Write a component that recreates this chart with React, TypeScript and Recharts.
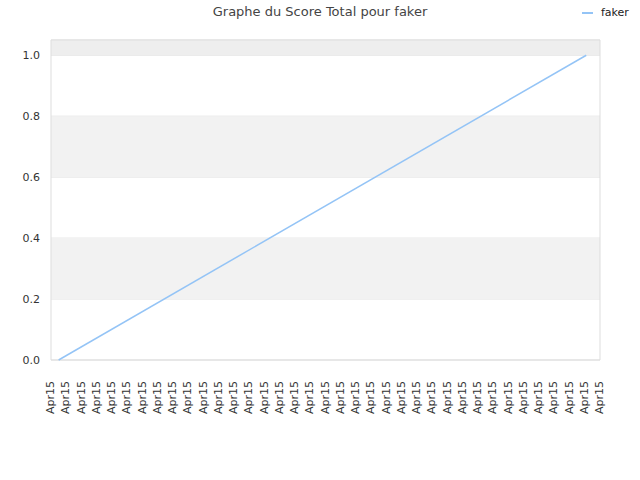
import {
  LineChart,
  Line,
  XAxis,
  YAxis,
  CartesianGrid,
  ReferenceArea,
} from 'recharts';

const title = 'Graphe du Score Total pour faker';
const seriesName = 'faker';

// x positions (tick index units) and total score
const scoreX = [0.5, 35.1];
const scoreY = [0, 1];

const tickLabels = Array.from({ length: 37 }, () => 'Apr15');
const yTicks = [0, 0.2, 0.4, 0.6, 0.8, 1.0];
const bands = [
  [0.2, 0.4],
  [0.6, 0.8],
];

const data = scoreX.map((x, i) => ({ x, score: scoreY[i] }));
const xTicks = tickLabels.map((_, i) => i);

const FONT = '"DejaVu Sans", Verdana, sans-serif';
const LINE_COLOR = '#94c4f6';

function RotatedTick(props: any) {
  const { x, y, payload } = props;
  return (
    <text
      x={x + 3}
      y={y + 13}
      transform={`rotate(-90, ${x + 3}, ${y + 13})`}
      textAnchor="end"
      fontSize={11}
      fontFamily={FONT}
      fill="#333"
    >
      {tickLabels[payload.value]}
    </text>
  );
}

export default function App() {
  return (
    <div style={{ position: 'absolute', left: 0, top: 0, width: 640, height: 480, background: '#fff' }}>
      <div
        style={{
          position: 'absolute',
          top: 4,
          left: 0,
          width: 640,
          textAlign: 'center',
          fontFamily: FONT,
          fontSize: 13,
          color: '#444',
        }}
      >
        {title}
      </div>
      <div
        style={{
          position: 'absolute',
          top: 6,
          left: 582,
          display: 'flex',
          alignItems: 'center',
          fontFamily: FONT,
          fontSize: 11,
          color: '#222',
        }}
      >
        <span style={{ display: 'inline-block', width: 11, height: 2, background: LINE_COLOR, marginRight: 8 }} />
        {seriesName}
      </div>
      <LineChart width={640} height={480} data={data} margin={{ top: 40, right: 40, left: 1, bottom: 0 }}>
        <ReferenceArea y1={1} y2={1.05} fill="#eeeeee" fillOpacity={1} stroke="none" />
        {bands.map(([a, b]) => (
          <ReferenceArea key={a} y1={a} y2={b} fill="#f2f2f2" fillOpacity={1} stroke="none" />
        ))}
        <CartesianGrid vertical={false} stroke="#e3e3e3" />
        <ReferenceArea x1={0} x2={36} y1={0} y2={1.05} fill="none" stroke="#dddddd" strokeWidth={1} />
        <XAxis
          dataKey="x"
          type="number"
          domain={[0, 36]}
          ticks={xTicks}
          interval={0}
          height={120}
          axisLine={false}
          tickLine={false}
          tick={<RotatedTick />}
        />
        <YAxis
          type="number"
          domain={[0, 1.05]}
          ticks={yTicks}
          width={50}
          axisLine={false}
          tickLine={false}
          tickMargin={5}
          tickFormatter={(v: number) => v.toFixed(1)}
          tick={{ fontSize: 11, fontFamily: FONT, fill: '#333' }}
        />
        <Line
          type="linear"
          dataKey="score"
          stroke={LINE_COLOR}
          strokeWidth={1.5}
          dot={false}
          isAnimationActive={false}
        />
      </LineChart>
    </div>
  );
}
